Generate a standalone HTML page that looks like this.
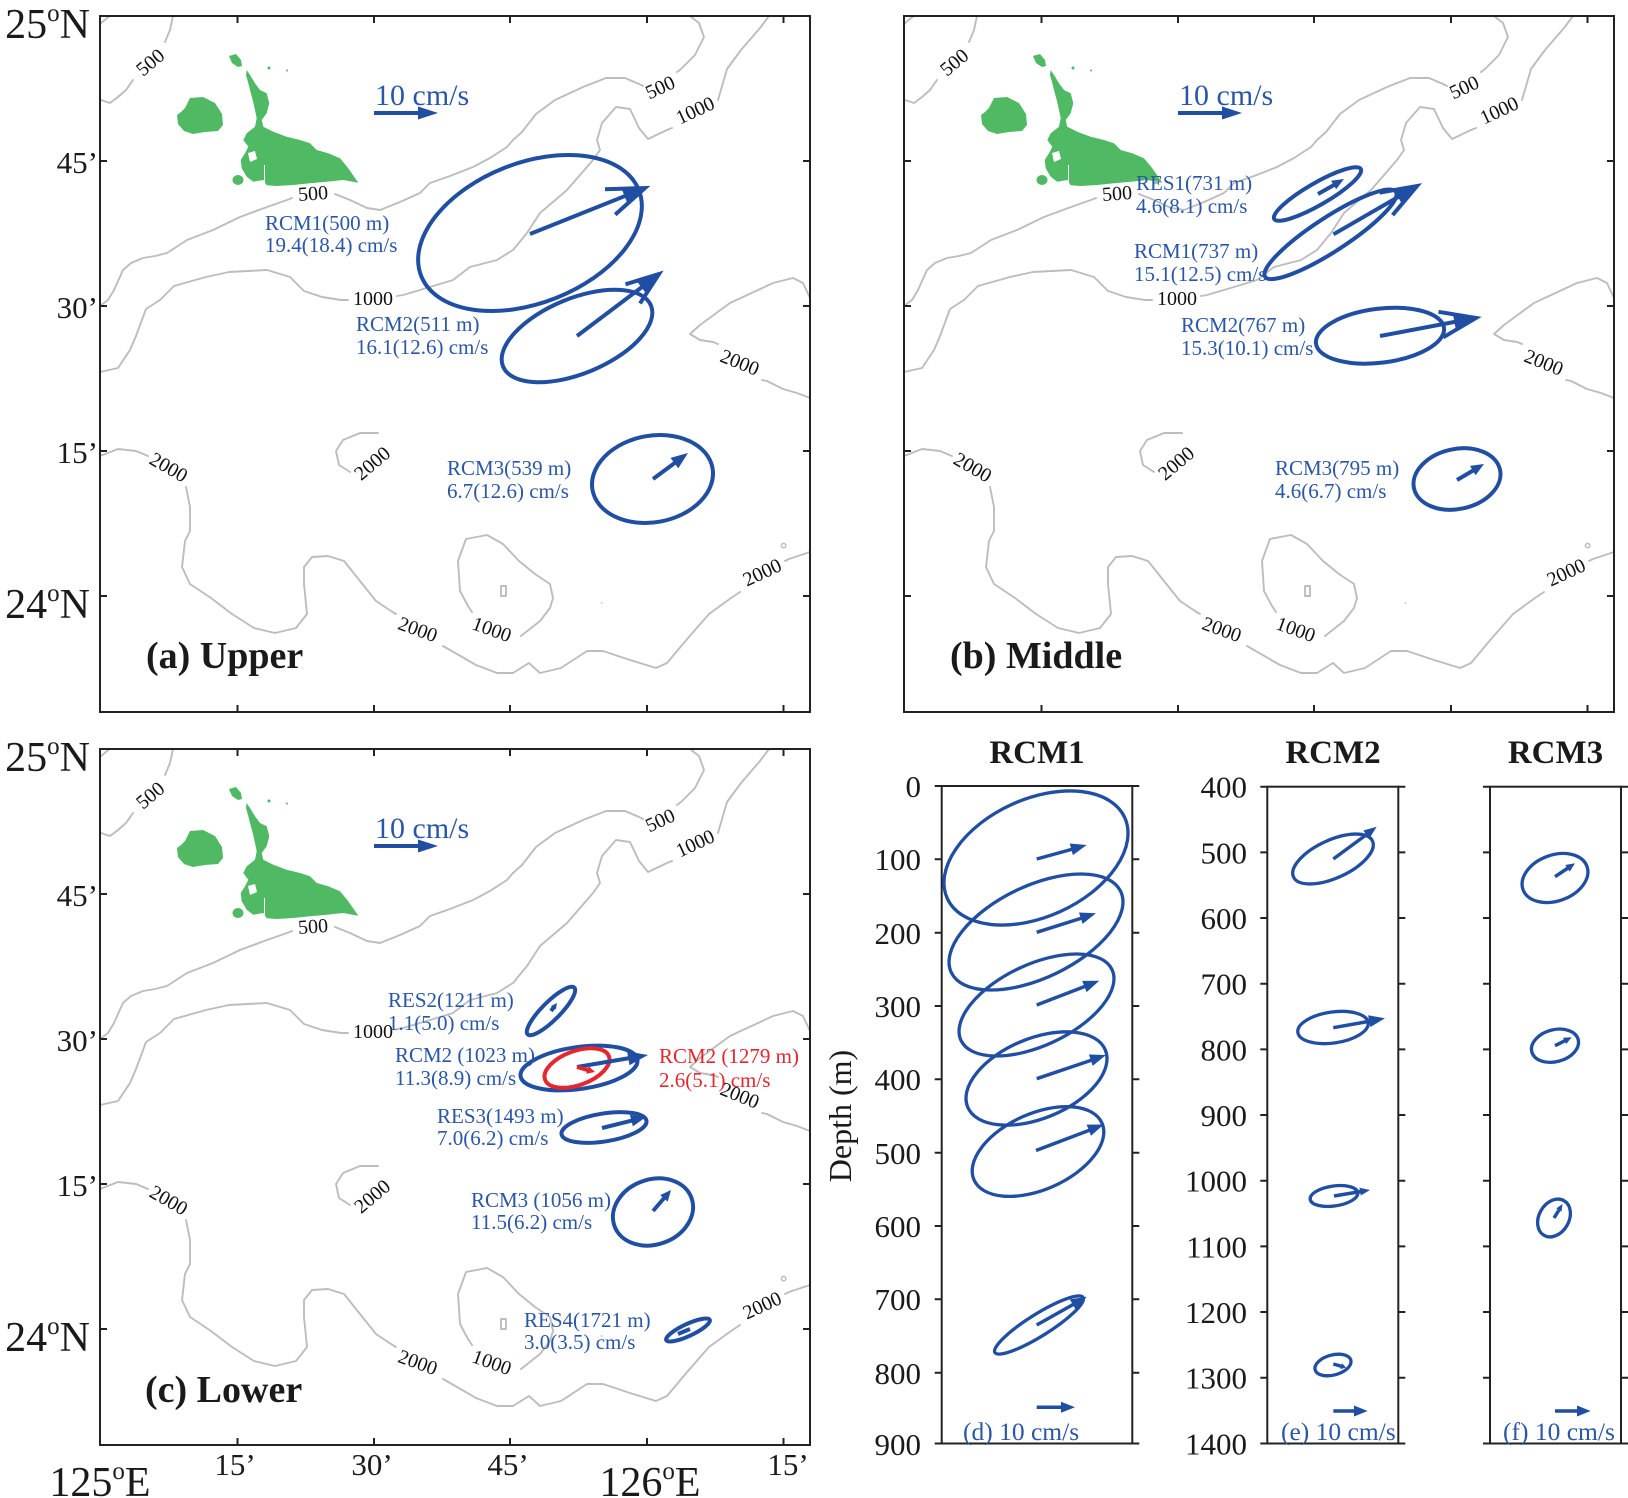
<!DOCTYPE html>
<html><head><meta charset="utf-8"><style>
html,body{margin:0;padding:0;background:#fff;}
svg{display:block;}
text{font-family:"Liberation Serif","DejaVu Serif",serif;}
.bt{fill:#2a56a7;font-size:21px;}
.rt{fill:#e6262e;font-size:21px;}
.cl{fill:#111;font-size:20px;text-anchor:middle;}
.ax{fill:#1a1a1a;}
.tag{fill:#1a1a1a;font-size:38px;font-weight:bold;}
.el{fill:none;stroke:#1f4ea2;stroke-width:4;}
.elp{fill:none;stroke:#1f4ea2;stroke-width:3.3;}
.sh{stroke:#1f4ea2;stroke-width:4;fill:none;stroke-linecap:butt;}
.shp{stroke:#1f4ea2;stroke-width:3.5;fill:none;}
.hd{fill:#1f4ea2;stroke:none;}
.ct{fill:none;stroke:#bdbdbd;stroke-width:1.9;stroke-linejoin:round;stroke-linecap:round;}
.fr{fill:none;stroke:#222;stroke-width:2;}
.tk{stroke:#222;stroke-width:2;}
</style></head><body>
<svg width="1628" height="1498" viewBox="0 0 1628 1498" xmlns="http://www.w3.org/2000/svg">
<defs>
<g id="map">
  <!-- contours -->
  <path class="ct" d="M173,16 L170,30 L165,42"/>
  <path class="ct" d="M133,80 L126,90 L118,97 L110,103 L101,100"/>
  <path class="ct" d="M100,24 L107,18 L110,16"/>
  <path class="ct" d="M100,306 L108,300 L114,290 L118,281 L123,270 L131,263 L143,258 L155,256 L167,253 L187,240 L213,230 L240,217 L267,207 L287,200 L292,198"/>
  <path class="ct" d="M335,194 L350,200 L367,208 L380,210 L400,202 L420,193 L430,183 L450,176 L473,167 L490,158 L507,147 L513,140 L522,132 L536,114 L555,100 L583,87 L606,78 L625,78 L639,84 L643,86"/>
  <path class="ct" d="M677,72 L681,69 L695,55 L704,37 L699,23 L690,16"/>
  <path class="ct" d="M100,372 L118,368 L130,350 L136,336 L146,309 L160,300 L174,286 L206,277 L229,272 L267,270 L290,277 L304,291 L322,297 L341,300 L348,300"/>
  <path class="ct" d="M397,296 L403,295 L430,287 L453,280 L470,267 L497,260 L513,250 L527,233 L540,213 L567,190 L593,160 L600,150 L597,140 L602,123 L616,107 L630,109 L639,128 L648,139 L667,130 L672,128"/>
  <path class="ct" d="M718,100 L727,69 L741,50 L760,28 L769,16"/>
  <path class="ct" d="M810,298 L803,283 L793,278 L773,283 L730,303 L700,325 L690,334 L700,340 L713,342 L718,344"/>
  <path class="ct" d="M762,380 L767,381 L783,389 L797,393 L810,398"/>
  <path class="ct" d="M378,433 L360,433 L343,440 L336,451 L339,465 L350,472"/>
  <path class="ct" d="M100,456 L118,449 L136,451 L148,456"/>
  <path class="ct" d="M186,487 L188,497 L190,507 L190,531 L185,541 L182,567 L190,584 L211,598 L232,614 L254,628 L275,633 L296,628 L307,614 L304,584 L304,567 L312,557 L328,556 L344,561 L360,581 L376,601 L391,611 L396,614"/>
  <path class="ct" d="M443,646 L450,650 L476,665 L497,673 L513,673 L529,663 L540,673 L561,668 L587,651 L603,651 L630,660 L656,668 L667,663 L688,638 L709,614 L731,598 L740,592"/>
  <path class="ct" d="M785,561 L789,559 L810,552"/>
  <path class="ct" d="M521,636 L540,621 L550,608 L553,598 L550,584 L535,574 L519,561 L503,544 L487,535 L466,539 L458,561 L460,591 L468,606 L472,612"/>
  <path class="ct" d="M501,586 L506,586 L506,596 L501,596 Z"/>
  <circle class="ct" cx="783.6" cy="545.6" r="2.2" style="stroke-width:1.5"/>
  <circle cx="601.6" cy="603" r="1" fill="#ccc"/>
  <!-- islands -->
  <path fill="#50b964" d="M190,98 L203,97 L215,103 L222,114 L223,125 L218,131 L205,132 L193,134 L184,131 L178,124 L177,115 L181,112 L185,108 Z"/>
  <path fill="#50b964" d="M229,56 L236,54 L241,60 L242,66 L238,67 L232,63 Z"/>
  <path fill="#50b964" d="M246.7,70 L250,75 L255,83.3 L260,90 L266.7,93.3 L269.3,103.3 L266.7,113.3 L261.7,120 L263.3,126.7 L273.3,131.7 L286.7,136.7 L300,140 L310,143.3 L316.7,150 L328.3,153.3 L340,158.3 L348.3,168.3 L358.3,182.7 L343.3,180 L326.7,181.7 L310,183.3 L293.3,185 L276.7,186 L266.7,185.3 L263.3,180 L253.3,181.7 L246.7,176.7 L241.7,168.3 L240.7,160 L245,153.3 L248.3,146.7 L243.3,140 L246.7,133.3 L255,126.7 L256.7,118.3 L255,110 L252.7,100 L250,90 L248.3,83.3 L246,75 Z"/>
  <path fill="#fff" d="M248,153 L255,151 L257,159 L250,162 Z"/>
  <line x1="264.5" y1="165" x2="264.5" y2="185" stroke="#fff" stroke-width="1"/>
  <ellipse cx="238" cy="180" rx="5.5" ry="5" fill="#50b964"/>
  <circle cx="269" cy="68" r="1.5" fill="#50b964"/>
  <circle cx="287" cy="70.5" r="1" fill="#50b964"/>
</g>
<g id="frame">
  <rect class="fr" x="100" y="16" width="710" height="696"/>
  <path class="tk" d="M100,161 h7 M100,306 h7 M100,451 h7 M100,596 h7 M810,161 h-7 M810,306 h-7 M810,451 h-7 M810,596 h-7 M237.5,16 v7 M374,16 v7 M510,16 v7 M647,16 v7 M783.5,16 v7 M237.5,712 v-7 M374,712 v-7 M510,712 v-7 M647,712 v-7 M783.5,712 v-7"/>
</g>
</defs>

<!-- ================= PANEL A ================= -->
<use href="#map"/>
<use href="#frame"/>
<g>
  <text class="cl" transform="translate(150,62) rotate(-40)" dy="7">500</text>
  <text class="cl" transform="translate(313,193) rotate(-4)" dy="7">500</text>
  <text class="cl" transform="translate(373,298)" dy="7">1000</text>
  <text class="cl" transform="translate(660,87) rotate(-25)" dy="7">500</text>
  <text class="cl" transform="translate(695,110) rotate(-25)" dy="7">1000</text>
  <text class="cl" transform="translate(740,362) rotate(22)" dy="7">2000</text>
  <text class="cl" transform="translate(372,463) rotate(-40)" dy="7">2000</text>
  <text class="cl" transform="translate(169,467) rotate(30)" dy="7">2000</text>
  <text class="cl" transform="translate(418,629) rotate(20)" dy="7">2000</text>
  <text class="cl" transform="translate(492,629) rotate(20)" dy="7">1000</text>
  <text class="cl" transform="translate(762,572) rotate(-25)" dy="7">2000</text>
</g>
<text class="ax" x="90" y="38" font-size="42" text-anchor="end">25<tspan font-size="25" dy="-17">o</tspan><tspan dy="17">N</tspan></text>
<text class="ax" x="98" y="173" font-size="31" text-anchor="end">45’</text>
<text class="ax" x="98" y="318" font-size="31" text-anchor="end">30’</text>
<text class="ax" x="98" y="463" font-size="31" text-anchor="end">15’</text>
<text class="ax" x="90" y="618" font-size="42" text-anchor="end">24<tspan font-size="25" dy="-17">o</tspan><tspan dy="17">N</tspan></text>
<text class="tag" x="146" y="668">(a) Upper</text>
<text x="375" y="105" font-size="30" fill="#2a56a7">10 cm/s</text>
<line class="sh" x1="374" y1="113" x2="422" y2="113"/>
<polygon class="hd" points="438,113 418,106.5 418,119.5"/>
<!-- ellipses a -->
<ellipse class="el" cx="530" cy="233" rx="117" ry="70" transform="rotate(-21.5 530 233)"/>
<ellipse class="el" cx="577" cy="336" rx="80" ry="37.6" transform="rotate(-22.4 577 336)"/>
<ellipse class="el" cx="652.5" cy="479" rx="61" ry="43.3" transform="rotate(-10.5 652.5 479)"/>
<line class="sh" x1="530" y1="234" x2="640" y2="190"/>
<polyline class="sh" points="605,189.3 645,188 615.2,214.6" stroke-linejoin="miter"/>
<polygon class="hd" points="645,188 627.2,202.7 622,189.7"/>
<line class="sh" x1="577" y1="336" x2="654" y2="278"/>
<polyline class="sh" points="625.5,284.3 659,274 640,303.4"/>
<polygon class="hd" points="659,274 645.6,292.9 637.2,281.7"/>
<line class="sh" x1="653" y1="479" x2="676" y2="462"/>
<polygon class="hd" points="688,453 678.3,468.3 670.5,457.9"/>
<text class="bt" x="265" y="230">RCM1(500 m)</text>
<text class="bt" x="265" y="252">19.4(18.4) cm/s</text>
<text class="bt" x="356" y="331">RCM2(511 m)</text>
<text class="bt" x="356" y="354">16.1(12.6) cm/s</text>
<text class="bt" x="447" y="475">RCM3(539 m)</text>
<text class="bt" x="447" y="498">6.7(12.6) cm/s</text>

<!-- ================= PANEL B ================= -->
<use href="#map" transform="translate(804,0)"/>
<use href="#frame" transform="translate(804,0)"/>
<g transform="translate(804,0)">
  <text class="cl" transform="translate(150,62) rotate(-40)" dy="7">500</text>
  <text class="cl" transform="translate(313,193) rotate(-4)" dy="7">500</text>
  <text class="cl" transform="translate(373,298)" dy="7">1000</text>
  <text class="cl" transform="translate(660,87) rotate(-25)" dy="7">500</text>
  <text class="cl" transform="translate(695,110) rotate(-25)" dy="7">1000</text>
  <text class="cl" transform="translate(740,362) rotate(22)" dy="7">2000</text>
  <text class="cl" transform="translate(372,463) rotate(-40)" dy="7">2000</text>
  <text class="cl" transform="translate(169,467) rotate(30)" dy="7">2000</text>
  <text class="cl" transform="translate(418,629) rotate(20)" dy="7">2000</text>
  <text class="cl" transform="translate(492,629) rotate(20)" dy="7">1000</text>
  <text class="cl" transform="translate(762,572) rotate(-25)" dy="7">2000</text>
  <text class="tag" x="146" y="668">(b) Middle</text>
  <text x="375" y="105" font-size="30" fill="#2a56a7">10 cm/s</text>
  <line class="sh" x1="374" y1="113" x2="422" y2="113"/>
  <polygon class="hd" points="438,113 418,106.5 418,119.5"/>
</g>
<ellipse class="el" cx="1317.5" cy="194" rx="50" ry="11" transform="rotate(-30 1317.5 194)"/>
<ellipse class="el" cx="1330.5" cy="234.3" rx="78" ry="17" transform="rotate(-33 1330.5 234.3)"/>
<ellipse class="el" cx="1380" cy="335.7" rx="64.5" ry="27" transform="rotate(-7 1380 335.7)"/>
<ellipse class="el" cx="1457" cy="479" rx="44" ry="30" transform="rotate(-12 1457 479)"/>
<line class="sh" x1="1318" y1="194" x2="1334" y2="185"/>
<polygon class="hd" points="1344,179 1336.1,189.3 1331.1,180.7"/>
<line class="sh" x1="1333.5" y1="234.3" x2="1412" y2="189"/>
<polyline class="sh" points="1379.6,192.6 1417,186 1392.6,215.1"/>
<polygon class="hd" points="1417,186 1401.5,203.1 1394.5,190.9"/>
<line class="sh" x1="1380" y1="336" x2="1470" y2="319"/>
<polyline class="sh" points="1438.5,311.8 1476,318 1443.3,337.3"/>
<polygon class="hd" points="1476,318 1455.7,328.9 1453.1,315.1"/>
<line class="sh" x1="1457" y1="480" x2="1474" y2="470"/>
<polygon class="hd" points="1484,464 1475.6,475.3 1470,465.9"/>
<text class="bt" x="1136" y="190">RES1(731 m)</text>
<text class="bt" x="1136" y="213">4.6(8.1) cm/s</text>
<text class="bt" x="1134" y="258">RCM1(737 m)</text>
<text class="bt" x="1134" y="281">15.1(12.5) cm/s</text>
<text class="bt" x="1181" y="332">RCM2(767 m)</text>
<text class="bt" x="1181" y="355">15.3(10.1) cm/s</text>
<text class="bt" x="1275" y="475">RCM3(795 m)</text>
<text class="bt" x="1275" y="498">4.6(6.7) cm/s</text>

<!-- ================= PANEL C ================= -->
<use href="#map" transform="translate(0,733)"/>
<use href="#frame" transform="translate(0,733)"/>
<g transform="translate(0,733)">
  <text class="cl" transform="translate(150,62) rotate(-40)" dy="7">500</text>
  <text class="cl" transform="translate(313,193) rotate(-4)" dy="7">500</text>
  <text class="cl" transform="translate(373,298)" dy="7">1000</text>
  <text class="cl" transform="translate(660,87) rotate(-25)" dy="7">500</text>
  <text class="cl" transform="translate(695,110) rotate(-25)" dy="7">1000</text>
  <text class="cl" transform="translate(740,362) rotate(22)" dy="7">2000</text>
  <text class="cl" transform="translate(372,463) rotate(-40)" dy="7">2000</text>
  <text class="cl" transform="translate(169,467) rotate(30)" dy="7">2000</text>
  <text class="cl" transform="translate(418,629) rotate(20)" dy="7">2000</text>
  <text class="cl" transform="translate(492,629) rotate(20)" dy="7">1000</text>
  <text class="cl" transform="translate(762,572) rotate(-25)" dy="7">2000</text>
  <text class="ax" x="90" y="38" font-size="42" text-anchor="end">25<tspan font-size="25" dy="-17">o</tspan><tspan dy="17">N</tspan></text>
  <text class="ax" x="98" y="173" font-size="31" text-anchor="end">45’</text>
  <text class="ax" x="98" y="318" font-size="31" text-anchor="end">30’</text>
  <text class="ax" x="98" y="463" font-size="31" text-anchor="end">15’</text>
  <text class="ax" x="90" y="618" font-size="42" text-anchor="end">24<tspan font-size="25" dy="-17">o</tspan><tspan dy="17">N</tspan></text>
  <text class="tag" x="145" y="669">(c) Lower</text>
  <text x="375" y="105" font-size="30" fill="#2a56a7">10 cm/s</text>
  <line class="sh" x1="374" y1="113" x2="422" y2="113"/>
  <polygon class="hd" points="438,113 418,106.5 418,119.5"/>
</g>
<!-- bottom lon labels -->
<text class="ax" x="100" y="1496" font-size="42" text-anchor="middle">125<tspan font-size="25" dy="-17">o</tspan><tspan dy="17">E</tspan></text>
<text class="ax" x="235" y="1475" font-size="31" text-anchor="middle">15’</text>
<text class="ax" x="372" y="1475" font-size="31" text-anchor="middle">30’</text>
<text class="ax" x="508" y="1475" font-size="31" text-anchor="middle">45’</text>
<text class="ax" x="650" y="1496" font-size="42" text-anchor="middle">126<tspan font-size="25" dy="-17">o</tspan><tspan dy="17">E</tspan></text>
<text class="ax" x="788" y="1475" font-size="31" text-anchor="middle">15’</text>
<!-- ellipses c -->
<ellipse class="el" cx="551" cy="1011" rx="33" ry="9" transform="rotate(-45 551 1011)"/>
<line class="sh" x1="551" y1="1011" x2="554" y2="1007"/>
<polygon class="hd" points="557,1003 555.8,1009.6 551,1006"/>
<ellipse class="el" cx="579" cy="1068" rx="59" ry="21" transform="rotate(-8 579 1068)"/>
<ellipse class="el" cx="577" cy="1068" rx="34" ry="17" transform="rotate(-20 577 1068)" style="stroke:#e6262e"/>
<line class="sh" x1="577" y1="1067" x2="630" y2="1058"/>
<polygon class="hd" points="648,1055 629.5,1065.2 627.1,1051.4"/>
<line x1="577" y1="1067" x2="589" y2="1070.5" stroke="#e6262e" stroke-width="4"/>
<polygon points="595,1072 586.2,1073.8 588.4,1066" fill="#e6262e"/>
<ellipse class="el" cx="604" cy="1127.5" rx="43" ry="14" transform="rotate(-9 604 1127.5)"/>
<line class="sh" x1="602" y1="1128" x2="633" y2="1120.3"/>
<polygon class="hd" points="646,1117 632.9,1126.4 629.9,1114.8"/>
<ellipse class="el" cx="653" cy="1212" rx="41" ry="32.5" transform="rotate(-20 653 1212)"/>
<line class="sh" x1="653" y1="1211" x2="665" y2="1197"/>
<polygon class="hd" points="671,1190 667.7,1201.6 660.1,1195.1"/>
<ellipse class="el" cx="688" cy="1330" rx="24" ry="6" transform="rotate(-25 688 1330)"/>
<line class="sh" x1="690" y1="1329" x2="678" y2="1334"/>
<text class="bt" x="388" y="1007">RES2(1211 m)</text>
<text class="bt" x="388" y="1030">1.1(5.0) cm/s</text>
<text class="bt" x="395" y="1062">RCM2 (1023 m)</text>
<text class="bt" x="395" y="1085">11.3(8.9) cm/s</text>
<text class="rt" x="659" y="1063">RCM2 (1279 m)</text>
<text class="rt" x="659" y="1087">2.6(5.1) cm/s</text>
<text class="bt" x="437" y="1123">RES3(1493 m)</text>
<text class="bt" x="437" y="1145">7.0(6.2) cm/s</text>
<text class="bt" x="471" y="1207">RCM3 (1056 m)</text>
<text class="bt" x="471" y="1229">11.5(6.2) cm/s</text>
<text class="bt" x="524" y="1327">RES4(1721 m)</text>
<text class="bt" x="524" y="1349">3.0(3.5) cm/s</text>

<!-- ================= PANEL D ================= -->
<text class="ax" x="1037" y="763" font-size="33" font-weight="bold" text-anchor="middle">RCM1</text>
<text class="ax" x="1333" y="763" font-size="33" font-weight="bold" text-anchor="middle">RCM2</text>
<text class="ax" x="1555.5" y="763" font-size="33" font-weight="bold" text-anchor="middle">RCM3</text>
<text class="ax" font-size="32" text-anchor="middle" transform="translate(851,1116) rotate(-90)">Depth (m)</text>
<rect class="fr" x="941.7" y="786" width="190.6" height="657.5"/>
<path class="tk" d="M934.7,786 h7 M934.7,859.3 h7 M934.7,932.7 h7 M934.7,1006 h7 M934.7,1079.3 h7 M934.7,1152.7 h7 M934.7,1226 h7 M934.7,1299.3 h7 M934.7,1372.7 h7 M934.7,1443.5 h7 M1132.3,786 h7 M1132.3,859.3 h7 M1132.3,932.7 h7 M1132.3,1006 h7 M1132.3,1079.3 h7 M1132.3,1152.7 h7 M1132.3,1226 h7 M1132.3,1299.3 h7 M1132.3,1372.7 h7 M1132.3,1443.5 h7"/>
<g class="ax" font-size="31" text-anchor="end">
<text x="921" y="797">0</text>
<text x="921" y="870">100</text>
<text x="921" y="944">200</text>
<text x="921" y="1017">300</text>
<text x="921" y="1090">400</text>
<text x="921" y="1164">500</text>
<text x="921" y="1237">600</text>
<text x="921" y="1310">700</text>
<text x="921" y="1384">800</text>
<text x="921" y="1455">900</text>
</g>
<ellipse class="elp" cx="1036" cy="858" rx="97.5" ry="58.8" transform="rotate(-24.5 1036 858)"/>
<ellipse class="elp" cx="1036" cy="932" rx="93.9" ry="46" transform="rotate(-25.6 1036 932)"/>
<ellipse class="elp" cx="1036.5" cy="1005" rx="83.4" ry="40.6" transform="rotate(-25.1 1036.5 1005)"/>
<ellipse class="elp" cx="1036.5" cy="1078.5" rx="74.5" ry="40" transform="rotate(-22.5 1036.5 1078.5)"/>
<ellipse class="elp" cx="1038" cy="1151.5" rx="70" ry="38" transform="rotate(-24 1038 1151.5)"/>
<ellipse class="elp" cx="1039" cy="1325" rx="52" ry="11" transform="rotate(-32 1039 1325)"/>
<line class="shp" x1="1036.7" y1="859" x2="1073" y2="849"/>
<polygon class="hd" points="1086.7,845 1072.9,855.1 1069.7,843.5"/>
<line class="shp" x1="1036.7" y1="932.3" x2="1082" y2="918"/>
<polygon class="hd" points="1096,913.3 1082.6,923.9 1079,912.5"/>
<line class="shp" x1="1036.7" y1="1005" x2="1086" y2="986"/>
<polygon class="hd" points="1099.3,980.7 1086.6,992.1 1082.2,980.9"/>
<line class="shp" x1="1036.7" y1="1078.7" x2="1092" y2="1060"/>
<polygon class="hd" points="1106,1055 1092.7,1065.9 1088.9,1054.5"/>
<line class="shp" x1="1036" y1="1150.5" x2="1090" y2="1130"/>
<polygon class="hd" points="1103.7,1124.5 1091,1135.8 1086.6,1124.6"/>
<line class="shp" x1="1036.7" y1="1325" x2="1074" y2="1304"/>
<polygon class="hd" points="1086.7,1296.7 1075.8,1309.8 1069.8,1299.4"/>
<line class="shp" x1="1036.7" y1="1407.3" x2="1063" y2="1407.3"/>
<polygon class="hd" points="1075,1407.3 1061,1401.8 1061,1412.8"/>
<text x="963" y="1440" font-size="25.5" fill="#2a56a7">(d) 10 cm/s</text>

<!-- ================= PANEL E ================= -->
<rect class="fr" x="1267.3" y="786.7" width="131" height="656.8"/>
<path class="tk" d="M1260.3,786.7 h7 M1260.3,852.4 h7 M1260.3,918 h7 M1260.3,983.7 h7 M1260.3,1049.4 h7 M1260.3,1115 h7 M1260.3,1180.7 h7 M1260.3,1246.4 h7 M1260.3,1312 h7 M1260.3,1377.7 h7 M1260.3,1443.5 h7 M1398.3,786.7 h7 M1398.3,852.4 h7 M1398.3,918 h7 M1398.3,983.7 h7 M1398.3,1049.4 h7 M1398.3,1115 h7 M1398.3,1180.7 h7 M1398.3,1246.4 h7 M1398.3,1312 h7 M1398.3,1377.7 h7 M1398.3,1443.5 h7"/>
<g class="ax" font-size="31" text-anchor="end">
<text x="1247" y="797.7">400</text>
<text x="1247" y="863.4">500</text>
<text x="1247" y="929">600</text>
<text x="1247" y="994.7">700</text>
<text x="1247" y="1060.4">800</text>
<text x="1247" y="1126">900</text>
<text x="1247" y="1191.7">1000</text>
<text x="1247" y="1257.4">1100</text>
<text x="1247" y="1323">1200</text>
<text x="1247" y="1388.7">1300</text>
<text x="1247" y="1454.5">1400</text>
</g>
<ellipse class="elp" cx="1333" cy="859" rx="43.4" ry="19" transform="rotate(-24.5 1333 859)"/>
<ellipse class="elp" cx="1333" cy="1027.5" rx="35.5" ry="15.5" transform="rotate(-8 1333 1027.5)"/>
<ellipse class="elp" cx="1334" cy="1196" rx="24" ry="10" transform="rotate(-8 1334 1196)"/>
<ellipse class="elp" cx="1333" cy="1365" rx="18.5" ry="10" transform="rotate(-15 1333 1365)"/>
<line class="shp" x1="1333.3" y1="859" x2="1368" y2="833.5"/>
<polygon class="hd" points="1376.7,826.7 1369.3,838.5 1363.3,830.5"/>
<line class="shp" x1="1333.3" y1="1027.7" x2="1371" y2="1021"/>
<polygon class="hd" points="1385,1018.3 1370.3,1027.1 1368.1,1015.3"/>
<line class="shp" x1="1334" y1="1196" x2="1361" y2="1191.5"/>
<polygon class="hd" points="1370,1190 1360.8,1195.5 1359.4,1187.7"/>
<line class="shp" x1="1333.3" y1="1364" x2="1342" y2="1366.4"/>
<polygon class="hd" points="1346,1367.5 1340.4,1369.1 1342,1363.3"/>
<line class="shp" x1="1333.3" y1="1411" x2="1356" y2="1411"/>
<polygon class="hd" points="1367.7,1411 1354,1405.5 1354,1416.5"/>
<text x="1281" y="1440" font-size="25.5" fill="#2a56a7">(e) 10 cm/s</text>

<!-- ================= PANEL F ================= -->
<rect class="fr" x="1490" y="786.7" width="131" height="656.8"/>
<path class="tk" d="M1483,786.7 h7 M1483,852.4 h7 M1483,918 h7 M1483,983.7 h7 M1483,1049.4 h7 M1483,1115 h7 M1483,1180.7 h7 M1483,1246.4 h7 M1483,1312 h7 M1483,1377.7 h7 M1483,1443.5 h7 M1621,786.7 h7 M1621,852.4 h7 M1621,918 h7 M1621,983.7 h7 M1621,1049.4 h7 M1621,1115 h7 M1621,1180.7 h7 M1621,1246.4 h7 M1621,1312 h7 M1621,1377.7 h7 M1621,1443.5 h7"/>
<ellipse class="elp" cx="1555" cy="878" rx="34" ry="23" transform="rotate(-20 1555 878)"/>
<ellipse class="elp" cx="1555" cy="1045.7" rx="24" ry="16" transform="rotate(-15 1555 1045.7)"/>
<ellipse class="elp" cx="1554" cy="1218" rx="20" ry="15" transform="rotate(-60 1554 1218)"/>
<line class="shp" x1="1555" y1="876.7" x2="1568" y2="868"/>
<polygon class="hd" points="1575,863.3 1569.7,871.6 1565.3,865"/>
<line class="shp" x1="1555" y1="1045.7" x2="1565" y2="1040.7"/>
<polygon class="hd" points="1571.7,1037.3 1566.2,1044 1563,1037.8"/>
<line class="shp" x1="1554" y1="1218" x2="1559" y2="1210"/>
<polygon class="hd" points="1562.5,1204 1561.5,1211.6 1556.3,1208.4"/>
<line class="shp" x1="1555" y1="1411" x2="1579" y2="1411"/>
<polygon class="hd" points="1590.7,1411 1577,1405.5 1577,1416.5"/>
<text x="1503" y="1440" font-size="25.5" fill="#2a56a7">(f) 10 cm/s</text>
</svg>
</body></html>
